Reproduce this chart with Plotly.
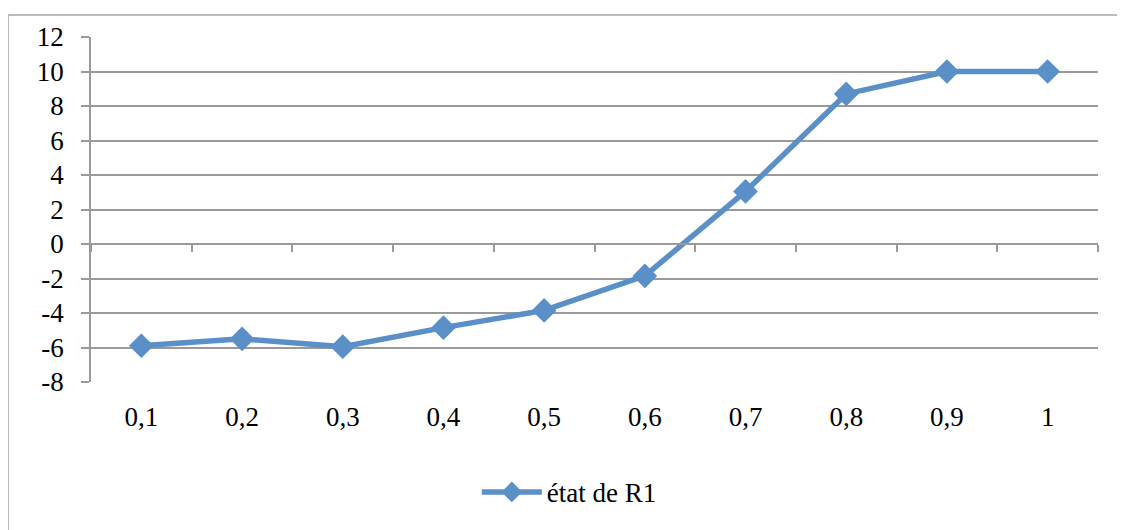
import plotly.graph_objects as go

# category labels and values for "état de R1"
categories = ['0,1', '0,2', '0,3', '0,4', '0,5', '0,6', '0,7', '0,8', '0,9', '1']
etat_r1 = [-5.9, -5.5, -5.95, -4.85, -3.85, -1.85, 3.05, 8.7, 10.0, 10.0]
y_ticks = [-8, -6, -4, -2, 0, 2, 4, 6, 8, 10, 12]
y_labels = ['-8', '-6', '-4', '-2', '0', '2', '4', '6', '8', '10', '12']

FONT = "Liberation Serif, 'Times New Roman', serif"
GRID = "#9a9a9a"
BLUE = "#5b8fc8"

fig = go.Figure()

fig.add_trace(go.Scatter(
    x=categories, y=etat_r1,
    mode="lines+markers",
    name="état de R1",
    line=dict(color=BLUE, width=5.5),
    marker=dict(symbol="diamond", size=19, color=BLUE),
))

# invisible trace so the axis through zero has the same categories
fig.add_trace(go.Scatter(
    x=categories, y=[0] * len(categories),
    xaxis="x2", mode="markers", marker=dict(opacity=0),
    showlegend=False, hoverinfo="skip",
))

# page body has an 8px margin, so the figure is 8px smaller on each side
fig.update_layout(
    width=1117, height=522,
    plot_bgcolor="white", paper_bgcolor="white",
    font=dict(family=FONT, size=27, color="black"),
    margin=dict(l=83, r=27, t=29, b=148),
    showlegend=True,
    legend=dict(orientation="h", x=0.475, xanchor="center", y=-0.32, yanchor="middle",
                font=dict(family=FONT, size=27, color="black"), itemwidth=60),
    xaxis=dict(
        type="category", range=[-0.5, 9.5],
        showgrid=False, showline=False, zeroline=False,
        ticks="", ticklabelstandoff=16,
        tickfont=dict(family=FONT, size=27, color="black"),
    ),
    xaxis2=dict(
        type="category", range=[-0.5, 9.5],
        overlaying="x", anchor="free", position=0.4, side="bottom",
        showgrid=False, showline=True, linecolor=GRID, linewidth=1.5,
        ticks="outside", tickson="boundaries", ticklen=7, tickcolor=GRID, tickwidth=1.5,
        showticklabels=False, zeroline=False,
    ),
    yaxis=dict(
        range=[-8, 12], tickmode="array", tickvals=y_ticks, ticktext=y_labels,
        showgrid=True, gridcolor=GRID, gridwidth=1.5,
        showline=True, linecolor=GRID, linewidth=1.5,
        ticks="outside", ticklen=8, tickcolor=GRID, tickwidth=1.5,
        zeroline=False, ticklabelstandoff=12,
        tickfont=dict(family=FONT, size=27, color="black"),
    ),
    shapes=[dict(
        type="rect", xref="paper", yref="paper",
        x0=-0.0824, x1=1.2, y0=-0.5, y1=1.064,
        line=dict(color="#a6a6a6", width=1.5), fillcolor="rgba(0,0,0,0)", layer="below",
    )],
)

fig.write_html("out.html")
